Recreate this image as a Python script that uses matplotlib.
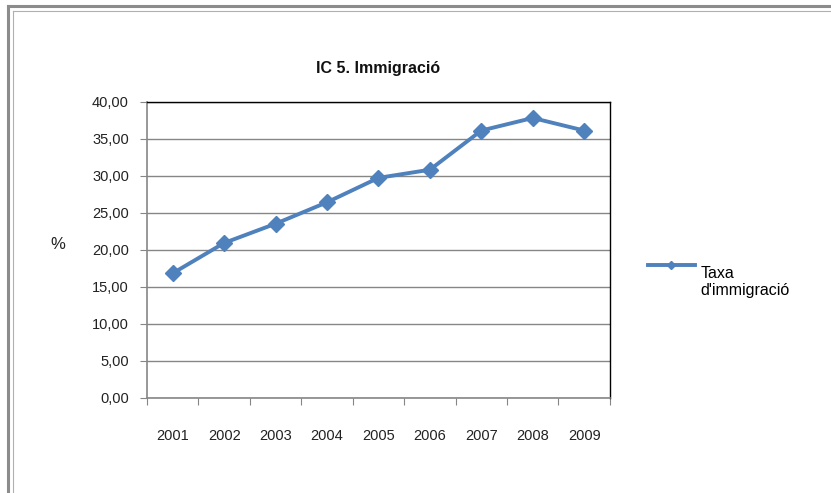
import numpy as np
import matplotlib.pyplot as plt
from matplotlib.lines import Line2D
from matplotlib.ticker import FuncFormatter
from matplotlib.transforms import Affine2D

# ==============================
# Data
# ==============================
years = ['2001', '2002', '2003', '2004', '2005', '2006', '2007', '2008', '2009']
taxa = [16.8, 20.9, 23.5, 26.4, 29.7, 30.8, 36.1, 37.8, 36.1]
y_ticks = [0, 5, 10, 15, 20, 25, 30, 35, 40]

line_color = '#4F81BD'
grid_color = '#868686'

plt.rcParams['font.family'] = ['Liberation Sans', 'DejaVu Sans']

# ==============================
# Figure
# ==============================
fig = plt.figure(figsize=(8.31, 4.93), dpi=100)
fig.patch.set_facecolor('white')

# outer frame (only left/top visible in the reference)
fig.add_artist(Line2D([0.010, 0.010], [0.0, 0.988], transform=fig.transFigure,
                      color='#8c8c8c', linewidth=2.2))
fig.add_artist(Line2D([0.010, 1.0], [0.988, 0.988], transform=fig.transFigure,
                      color='#8c8c8c', linewidth=2.2))
fig.add_artist(Line2D([0.016, 0.016], [0.0, 0.977], transform=fig.transFigure,
                      color='#b0b0b0', linewidth=0.8))
fig.add_artist(Line2D([0.016, 1.0], [0.977, 0.977], transform=fig.transFigure,
                      color='#b0b0b0', linewidth=0.8))

ax = fig.add_axes([0.1769, 0.1937, 0.557, 0.600])

x = np.arange(len(years))
ax.plot(x, taxa, color=line_color, linewidth=2.8, marker='D',
        markersize=8.5, markerfacecolor=line_color, markeredgecolor=line_color,
        label="Taxa\nd'immigració", zorder=3)

ax.set_xlim(-0.5, len(years) - 0.5)
ax.set_ylim(0, 40)
ax.set_yticks(y_ticks)
ax.yaxis.set_major_formatter(FuncFormatter(lambda v, p: f"{v:.2f}".replace('.', ',')))

ax.set_xticks(np.arange(-0.5, len(years), 1.0))
ax.set_xticklabels([])
ax.set_xticks(x, minor=True)
ax.set_xticklabels(years, minor=True)
ax.tick_params(axis='x', which='minor', length=0, pad=23, labelsize=10.5, colors='#222222')
ax.tick_params(axis='x', which='major', length=5, color=grid_color, direction='out')
ax.tick_params(axis='y', length=5, color=grid_color, labelsize=10.5, labelcolor='#222222', pad=8)

ax.yaxis.grid(True, color=grid_color, linewidth=1.0)
ax.set_axisbelow(True)

for side in ['left', 'bottom']:
    ax.spines[side].set_color(grid_color)
    ax.spines[side].set_linewidth(1.2)
for side in ['top', 'right']:
    ax.spines[side].set_color('#000000')
    ax.spines[side].set_linewidth(1.0)

ax.set_title('IC 5. Immigració', fontsize=11.5, fontweight='bold', pad=21, color='#111111')

fig.text(0.070, 0.505, '%', fontsize=12, ha='center', va='center', color='#222222')

leg = ax.legend(loc='center left', bbox_to_anchor=(1.0675, 0.449), frameon=False,
                fontsize=11.5, handlelength=3.0, handletextpad=0.3, borderaxespad=0)
for t in leg.get_texts():
    t.set_va('top')
    # lift the label so the handle sits at the top of the first line
    t.set_transform(t.get_transform() + Affine2D().translate(0, 12))
leg.legend_handles[0].set_markersize(4)

fig.savefig('out.png', dpi=100, facecolor='white')
